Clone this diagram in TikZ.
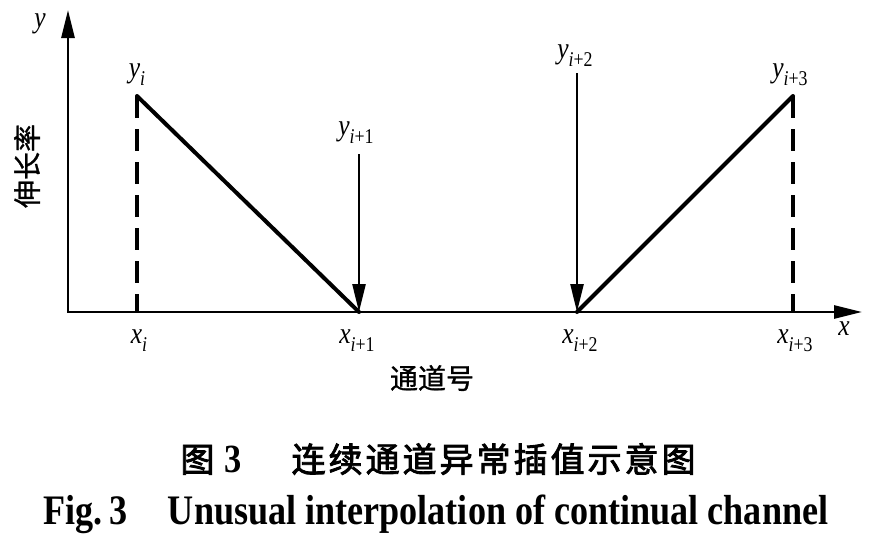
\documentclass[tikz,border=0pt]{standalone}
\usepackage{fontspec}
\usepackage{tikz}
\usetikzlibrary{arrows.meta}
\setmainfont{Liberation Serif}
\newfontfamily\labfont[FakeStretch=0.85]{Liberation Serif}
\newfontfamily\capfont[FakeStretch=0.86]{Liberation Serif}
\newfontfamily\cjk[FakeBold=1]{Noto Sans CJK SC}
\newfontfamily\cjkcap[FakeBold=2.5]{Noto Sans CJK SC}
\newcommand\sublab[2]{{\labfont\fontsize{30}{30}\selectfont\itshape #1}\raisebox{-8pt}{\labfont\fontsize{21}{21}\selectfont #2}}

\begin{document}
\begin{tikzpicture}[x=1pt,y=-1pt,
	axisline/.style={line width=2.7pt, {Triangle[length=28pt,width=13pt]}-{Triangle[length=28pt,width=13pt]}},
	valline/.style={line width=4pt, line cap=round},
	dashline/.style={line width=4pt, dash pattern=on 22pt off 11pt},
	downarrow/.style={line width=2.5pt, -{Triangle[length=28pt,width=13pt]}},
	lab/.style={anchor=base, inner sep=0pt},
	cjklab/.style={inner sep=0pt, font=\cjk\fontsize{28}{28}\selectfont}
	]
	\useasboundingbox (0,0) rectangle (872,539);
	
	% points on the axes
	\coordinate (o) at (68,312);
	\coordinate (ytip) at (68,10);
	\coordinate (xtip) at (862,312);
	\coordinate (xi) at (137,312);
	\coordinate (yi) at (137,96);
	\coordinate (xi1) at (359,312);
	\coordinate (ai1) at (359,154);
	\coordinate (xi2) at (577,312);
	\coordinate (ai2) at (577,73);
	\coordinate (xi3) at (793,312);
	\coordinate (yi3) at (793,96);
	
	\draw[axisline] (ytip) -- (o) -- (xtip);
	\draw[dashline] (yi) -- (xi);
	\draw[dashline] (yi3) -- (xi3);
	\draw[valline] (yi) -- (xi1);
	\draw[valline] (xi2) -- (yi3);
	\draw[downarrow] (ai1) -- (xi1);
	\draw[downarrow] (ai2) -- (xi2);
	
	% labels
	\node[lab] (ylab) at (40,27) {\sublab{y}{}};
	\node[lab] (xlab) at (844,335) {\sublab{x}{}};
	\node[lab] (yilab) at (137,77) {\sublab{y}{\textit{i}}};
	\node[lab] (yi1lab) at (356,135) {\sublab{y}{\textit{i}+1}};
	\node[lab] (yi2lab) at (575,58) {\sublab{y}{\textit{i}+2}};
	\node[lab] (yi3lab) at (790,77) {\sublab{y}{\textit{i}+3}};
	\node[lab] (xilab) at (139,343) {\sublab{x}{\textit{i}}};
	\node[lab] (xi1lab) at (357,343) {\sublab{x}{\textit{i}+1}};
	\node[lab] (xi2lab) at (580,343) {\sublab{x}{\textit{i}+2}};
	\node[lab] (xi3lab) at (795,343) {\sublab{x}{\textit{i}+3}};
	\node[cjklab, rotate=90] (ytitle) at (27,166) {伸长率};
	\node[cjklab] (xtitle) at (432,378) {通道号};
	
	% caption
	\node[inner sep=0pt, font=\cjkcap\fontsize{34}{34}\selectfont] (capcn) at (438,459) {图\hspace{10pt}{\capfont\bfseries\fontsize{40}{40}\selectfont 3}\hspace{50pt}连\hspace{3pt}续\hspace{3pt}通\hspace{3pt}道\hspace{3pt}异\hspace{3pt}常\hspace{3pt}插\hspace{3pt}值\hspace{3pt}示\hspace{3pt}意\hspace{3pt}图};
	\node[anchor=base, inner sep=0pt, font=\capfont\bfseries\fontsize{42}{42}\selectfont] (capen) at (436,524) {Fig.\,3\hspace{40pt}Unusual interpolation of continual channel};
\end{tikzpicture}
\end{document}
